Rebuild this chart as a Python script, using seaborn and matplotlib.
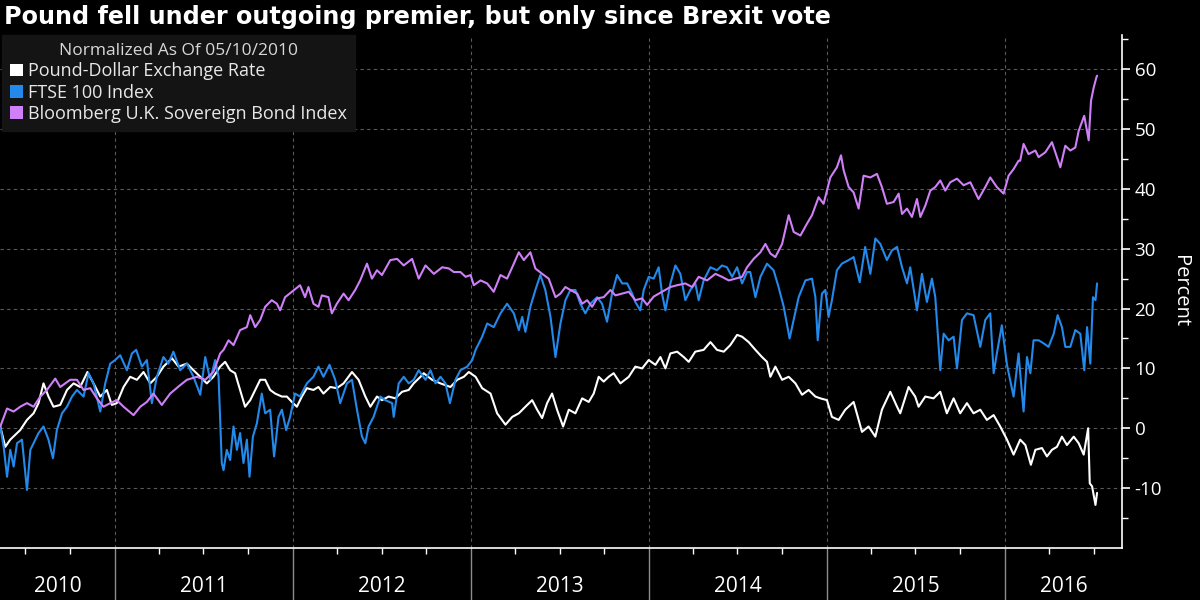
import numpy as np
import pandas as pd
import matplotlib
matplotlib.use("Agg")
import matplotlib.pyplot as plt
import matplotlib.dates as mdates
import matplotlib.ticker as mticker
import matplotlib.transforms as mtransforms
from matplotlib.patches import Patch
import seaborn as sns

# values, % change since 05/10/2010; time as decimal year
gbp_t = [2010.355, 2010.383, 2010.411, 2010.467, 2010.505, 2010.542, 2010.570, 2010.598, 2010.626, 2010.654,
         2010.692, 2010.730, 2010.767, 2010.804, 2010.845, 2010.879, 2010.917, 2010.954, 2010.982, 2011.010,
         2011.048, 2011.085, 2011.123, 2011.160, 2011.198, 2011.235, 2011.272, 2011.320, 2011.357, 2011.404,
         2011.441, 2011.479, 2011.516, 2011.553, 2011.591, 2011.619, 2011.647, 2011.675, 2011.703, 2011.731,
         2011.760, 2011.788, 2011.816, 2011.844, 2011.872, 2011.900, 2011.938, 2011.966, 2011.994, 2012.022,
         2012.050, 2012.078, 2012.115, 2012.143, 2012.171, 2012.209, 2012.246, 2012.284, 2012.331, 2012.368,
         2012.406, 2012.434, 2012.471, 2012.499, 2012.537, 2012.574, 2012.612, 2012.649, 2012.677, 2012.715,
         2012.733, 2012.780, 2012.827, 2012.883, 2012.921, 2012.958, 2012.986, 2013.024, 2013.061, 2013.108,
         2013.145, 2013.192, 2013.230, 2013.267, 2013.304, 2013.342, 2013.370, 2013.398, 2013.426, 2013.454,
         2013.482, 2013.516, 2013.548, 2013.585, 2013.623, 2013.660, 2013.688, 2013.716, 2013.744, 2013.772,
         2013.800, 2013.838, 2013.885, 2013.922, 2013.960, 2013.997, 2014.035, 2014.063, 2014.091, 2014.119,
         2014.157, 2014.194, 2014.222, 2014.259, 2014.306, 2014.344, 2014.381, 2014.419, 2014.456, 2014.494,
         2014.522, 2014.559, 2014.597, 2014.634, 2014.662, 2014.681, 2014.709, 2014.747, 2014.784, 2014.822,
         2014.859, 2014.896, 2014.934, 2014.962, 2014.999, 2015.027, 2015.065, 2015.102, 2015.149, 2015.196,
         2015.233, 2015.271, 2015.308, 2015.355, 2015.393, 2015.411, 2015.458, 2015.495, 2015.514, 2015.552,
         2015.598, 2015.636, 2015.673, 2015.711, 2015.748, 2015.786, 2015.823, 2015.861, 2015.898, 2015.936,
         2015.973, 2016.011, 2016.048, 2016.085, 2016.114, 2016.145, 2016.170, 2016.207, 2016.235, 2016.263,
         2016.291, 2016.319, 2016.347, 2016.385, 2016.413, 2016.441, 2016.466, 2016.475, 2016.488, 2016.507,
         2016.516]
gbp_v = [0.3, -3.1, -1.9, -0.3, 1.4, 2.5, 4.2, 7.5, 5.3, 3.6,
         3.9, 6.4, 7.5, 6.9, 9.4, 7.5, 5.3, 6.4, 3.9, 4.2,
         6.9, 8.6, 8.1, 9.4, 7.5, 8.6, 10.3, 11.7, 10.3, 10.8,
         9.7, 8.6, 7.5, 8.6, 10.3, 11.1, 9.7, 9.2, 6.4, 3.6,
         4.7, 6.4, 8.1, 8.1, 6.4, 5.8, 5.3, 5.3, 4.4, 3.6,
         5.3, 6.7, 6.4, 6.9, 5.8, 6.9, 6.7, 7.5, 9.4, 8.1,
         5.3, 3.6, 5.3, 4.7, 5.3, 5.0, 6.1, 6.4, 7.5, 8.6,
         9.2, 8.1, 7.5, 6.9, 8.1, 8.6, 9.4, 8.6, 6.7, 5.8,
         2.5, 0.6, 1.9, 2.5, 3.6, 4.7, 3.1, 1.7, 4.2, 5.8,
         3.1, 0.3, 3.1, 2.5, 5.0, 4.4, 5.8, 8.6, 7.8, 8.6,
         9.2, 7.5, 8.6, 10.3, 10.0, 11.4, 10.6, 11.9, 10.0, 12.5,
         12.8, 11.9, 11.1, 12.8, 13.1, 14.4, 13.1, 12.8, 13.9, 15.6,
         15.3, 14.4, 13.1, 11.9, 11.1, 8.6, 10.3, 8.1, 8.6, 7.5,
         5.6, 6.4, 5.3, 5.0, 4.7, 1.9, 1.4, 3.1, 4.4, -0.6,
         0.3, -1.4, 3.1, 6.1, 3.6, 2.5, 6.9, 5.3, 3.6, 5.3,
         5.0, 6.1, 2.5, 5.0, 2.5, 4.2, 2.5, 3.1, 1.4, 2.2,
         0.3, -1.9, -4.4, -1.9, -2.8, -6.1, -3.6, -3.3, -4.7, -3.6,
         -3.1, -1.4, -2.8, -1.4, -2.5, -4.4, 0.0, -9.2, -9.7, -12.8,
         -10.8]

ftse_t = [2010.355, 2010.374, 2010.393, 2010.411, 2010.430, 2010.449, 2010.477, 2010.505, 2010.524, 2010.542,
          2010.570, 2010.598, 2010.626, 2010.651, 2010.673, 2010.702, 2010.730, 2010.758, 2010.786, 2010.823,
          2010.851, 2010.879, 2010.917, 2010.945, 2010.973, 2011.001, 2011.029, 2011.067, 2011.095, 2011.119,
          2011.151, 2011.179, 2011.207, 2011.235, 2011.272, 2011.300, 2011.328, 2011.366, 2011.404, 2011.441,
          2011.479, 2011.507, 2011.535, 2011.563, 2011.582, 2011.600, 2011.610, 2011.628, 2011.647, 2011.666,
          2011.685, 2011.703, 2011.722, 2011.741, 2011.756, 2011.775, 2011.797, 2011.825, 2011.844, 2011.872,
          2011.894, 2011.919, 2011.938, 2011.962, 2011.984, 2012.012, 2012.040, 2012.078, 2012.115, 2012.143,
          2012.171, 2012.205, 2012.237, 2012.265, 2012.303, 2012.331, 2012.359, 2012.387, 2012.406, 2012.424,
          2012.452, 2012.490, 2012.518, 2012.556, 2012.565, 2012.593, 2012.621, 2012.649, 2012.677, 2012.705,
          2012.743, 2012.771, 2012.799, 2012.827, 2012.855, 2012.880, 2012.911, 2012.939, 2012.977, 2013.005,
          2013.024, 2013.061, 2013.089, 2013.126, 2013.164, 2013.201, 2013.239, 2013.267, 2013.286, 2013.304,
          2013.332, 2013.360, 2013.388, 2013.416, 2013.445, 2013.473, 2013.501, 2013.529, 2013.557, 2013.585,
          2013.613, 2013.641, 2013.669, 2013.707, 2013.735, 2013.763, 2013.791, 2013.819, 2013.848, 2013.876,
          2013.904, 2013.922, 2013.950, 2013.969, 2013.997, 2014.025, 2014.053, 2014.072, 2014.091, 2014.119,
          2014.147, 2014.175, 2014.203, 2014.231, 2014.259, 2014.278, 2014.306, 2014.344, 2014.381, 2014.409,
          2014.437, 2014.466, 2014.494, 2014.522, 2014.550, 2014.568, 2014.597, 2014.625, 2014.662, 2014.699,
          2014.727, 2014.756, 2014.789, 2014.812, 2014.840, 2014.878, 2014.915, 2014.934, 2014.947, 2014.971,
          2014.990, 2015.008, 2015.027, 2015.055, 2015.083, 2015.121, 2015.149, 2015.183, 2015.214, 2015.243,
          2015.271, 2015.299, 2015.336, 2015.364, 2015.393, 2015.421, 2015.449, 2015.467, 2015.505, 2015.533,
          2015.561, 2015.589, 2015.608, 2015.636, 2015.655, 2015.683, 2015.711, 2015.730, 2015.758, 2015.786,
          2015.823, 2015.861, 2015.889, 2015.917, 2015.936, 2015.954, 2015.982, 2016.011, 2016.048, 2016.076,
          2016.085, 2016.104, 2016.123, 2016.142, 2016.160, 2016.188, 2016.216, 2016.244, 2016.273, 2016.295,
          2016.319, 2016.338, 2016.366, 2016.394, 2016.422, 2016.444, 2016.460, 2016.478, 2016.493, 2016.507,
          2016.516]
ftse_v = [0.3, -3.1, -8.1, -3.6, -6.4, -2.5, -1.9, -10.3, -3.6, -2.5,
          -0.8, 0.3, -1.9, -5.0, -0.3, 2.5, 3.6, 5.3, 6.4, 5.3,
          9.2, 7.5, 2.8, 7.5, 10.8, 11.4, 12.2, 9.7, 12.5, 13.1,
          10.3, 11.4, 4.2, 8.6, 11.9, 10.8, 12.8, 9.7, 10.8, 8.6,
          5.6, 11.9, 8.1, 11.4, 8.6, -5.8, -7.0, -3.6, -5.3, 0.3,
          -3.6, -0.8, -5.8, -1.9, -8.1, -1.4, 0.8, 5.8, 2.5, 3.1,
          -4.7, 1.9, 3.1, -0.3, 1.9, 5.8, 5.3, 7.5, 8.6, 10.3,
          8.6, 10.6, 8.1, 4.2, 7.5, 8.1, 3.1, -1.4, -2.5, 0.3,
          1.9, 5.3, 4.7, 4.2, 1.9, 7.5, 8.6, 7.5, 8.1, 9.7,
          8.1, 9.7, 7.5, 8.6, 7.5, 4.2, 8.1, 9.7, 10.3, 11.4,
          13.1, 15.3, 17.5, 16.9, 19.2, 20.8, 19.2, 16.4, 18.6, 16.1,
          20.3, 23.1, 25.6, 23.1, 18.6, 11.9, 17.5, 21.4, 23.1, 23.1,
          20.8, 19.2, 20.8, 21.9, 20.8, 17.8, 22.5, 25.6, 24.2, 24.2,
          22.5, 21.1, 19.7, 23.1, 25.3, 25.0, 26.9, 22.5, 19.7, 24.2,
          27.2, 25.8, 21.4, 23.1, 24.2, 21.4, 24.7, 26.9, 26.4, 27.2,
          26.9, 25.3, 26.9, 24.2, 26.1, 26.1, 21.9, 25.3, 27.5, 26.4,
          23.6, 20.3, 15.0, 18.1, 21.9, 24.7, 25.0, 21.9, 14.7, 22.5,
          23.1, 18.6, 21.4, 26.4, 27.5, 28.1, 28.6, 24.4, 30.3, 25.8,
          31.7, 30.8, 28.1, 29.7, 30.3, 26.9, 24.2, 26.9, 19.7, 25.8,
          21.1, 25.0, 21.9, 9.7, 15.8, 14.7, 15.3, 10.0, 18.1, 19.2,
          18.9, 13.6, 18.1, 19.2, 9.2, 12.5, 17.2, 10.6, 5.3, 12.5,
          9.2, 2.8, 11.9, 9.2, 14.7, 14.7, 14.2, 13.6, 15.8, 18.9,
          16.9, 13.6, 13.6, 16.4, 15.8, 9.7, 16.9, 10.8, 21.9, 21.4,
          24.2]

bond_t = [2010.355, 2010.393, 2010.430, 2010.467, 2010.505, 2010.542, 2010.580, 2010.617, 2010.664, 2010.692,
          2010.748, 2010.786, 2010.823, 2010.861, 2010.898, 2010.935, 2010.973, 2011.010, 2011.048, 2011.104,
          2011.142, 2011.179, 2011.216, 2011.263, 2011.310, 2011.366, 2011.404, 2011.460, 2011.507, 2011.553,
          2011.591, 2011.610, 2011.638, 2011.666, 2011.703, 2011.741, 2011.760, 2011.788, 2011.816, 2011.844,
          2011.881, 2011.910, 2011.928, 2011.956, 2011.994, 2012.040, 2012.068, 2012.087, 2012.115, 2012.143,
          2012.162, 2012.199, 2012.218, 2012.246, 2012.284, 2012.312, 2012.349, 2012.377, 2012.415, 2012.443,
          2012.471, 2012.499, 2012.546, 2012.584, 2012.621, 2012.668, 2012.705, 2012.743, 2012.790, 2012.837,
          2012.874, 2012.902, 2012.939, 2012.968, 2012.996, 2013.014, 2013.052, 2013.089, 2013.126, 2013.164,
          2013.201, 2013.239, 2013.267, 2013.295, 2013.332, 2013.360, 2013.398, 2013.435, 2013.473, 2013.501,
          2013.529, 2013.557, 2013.595, 2013.623, 2013.651, 2013.679, 2013.707, 2013.744, 2013.782, 2013.810,
          2013.848, 2013.885, 2013.922, 2013.960, 2013.988, 2014.025, 2014.072, 2014.119, 2014.157, 2014.203,
          2014.241, 2014.278, 2014.325, 2014.372, 2014.409, 2014.447, 2014.484, 2014.522, 2014.550, 2014.587,
          2014.625, 2014.653, 2014.681, 2014.709, 2014.747, 2014.784, 2014.812, 2014.850, 2014.887, 2014.915,
          2014.952, 2014.980, 2015.018, 2015.055, 2015.078, 2015.093, 2015.121, 2015.149, 2015.177, 2015.205,
          2015.243, 2015.280, 2015.308, 2015.336, 2015.374, 2015.402, 2015.421, 2015.449, 2015.477, 2015.505,
          2015.524, 2015.552, 2015.580, 2015.608, 2015.636, 2015.664, 2015.692, 2015.730, 2015.767, 2015.805,
          2015.851, 2015.889, 2015.917, 2015.954, 2015.992, 2016.020, 2016.048, 2016.076, 2016.085, 2016.104,
          2016.132, 2016.170, 2016.188, 2016.226, 2016.263, 2016.291, 2016.310, 2016.338, 2016.366, 2016.394,
          2016.413, 2016.444, 2016.469, 2016.482, 2016.497, 2016.512, 2016.516]
bond_v = [0.3, 3.3, 2.8, 3.6, 4.2, 3.6, 5.3, 6.4, 8.3, 6.9,
          8.1, 8.1, 6.4, 6.7, 5.0, 3.6, 4.2, 4.7, 3.6, 2.2,
          3.6, 4.4, 5.8, 3.9, 5.8, 7.2, 8.1, 8.6, 8.1, 9.4,
          12.5, 13.1, 14.7, 13.9, 16.4, 16.9, 18.9, 16.9, 18.1, 20.3,
          21.4, 20.8, 19.7, 21.9, 22.8, 23.9, 21.9, 23.6, 20.8, 20.3,
          22.2, 21.9, 19.2, 20.8, 22.5, 21.4, 23.1, 24.7, 27.5, 25.0,
          26.4, 25.6, 28.1, 28.3, 27.2, 28.3, 25.0, 27.2, 25.8, 26.9,
          26.7, 26.1, 26.1, 25.3, 25.6, 23.9, 24.7, 24.2, 22.8, 25.6,
          25.0, 27.5, 29.4, 28.1, 29.4, 26.7, 25.8, 25.0, 21.9, 22.5,
          23.6, 23.1, 22.5, 20.8, 21.4, 20.3, 21.7, 21.9, 23.1, 22.2,
          22.5, 22.8, 21.4, 21.7, 20.6, 22.0, 22.8, 23.6, 23.9, 24.2,
          23.6, 25.3, 24.7, 25.8, 25.3, 24.7, 25.0, 25.3, 26.9, 28.3,
          29.4, 30.8, 29.2, 28.6, 30.8, 35.6, 32.8, 32.2, 34.2, 35.6,
          38.6, 37.5, 41.9, 43.6, 45.6, 43.1, 40.3, 39.4, 36.7, 42.2,
          41.9, 42.5, 40.3, 37.5, 37.8, 39.2, 35.8, 36.7, 35.3, 38.3,
          35.3, 37.2, 39.7, 40.3, 41.4, 39.7, 41.1, 41.7, 40.6, 41.1,
          38.3, 40.3, 41.9, 40.3, 39.2, 42.2, 43.3, 44.7, 44.7, 47.5,
          45.8, 46.4, 45.3, 46.1, 47.8, 45.3, 43.6, 47.2, 46.4, 46.9,
          49.7, 52.2, 48.1, 54.7, 56.9, 58.6, 58.9]

series_names = ["Pound-Dollar Exchange Rate", "FTSE 100 Index", "Bloomberg U.K. Sovereign Bond Index"]
series_colors = ["#ffffff", "#2389ea", "#cf7ff7"]
legend_title = "Normalized As Of 05/10/2010"
title = "Pound fell under outgoing premier, but only since Brexit vote"
years = [2010, 2011, 2012, 2013, 2014, 2015, 2016]


def to_dates(t):
    out = []
    for v in t:
        y = int(np.floor(v))
        start = pd.Timestamp(year=y, month=1, day=1)
        ndays = (pd.Timestamp(year=y + 1, month=1, day=1) - start).days
        out.append(start + pd.Timedelta(days=(v - y) * ndays))
    return out


frames = []
for name, t, v in zip(series_names, [gbp_t, ftse_t, bond_t], [gbp_v, ftse_v, bond_v]):
    frames.append(pd.DataFrame({"date": to_dates(t), "pct": v, "series": name}))
df = pd.concat(frames, ignore_index=True)

sns.set_theme(style="ticks", rc={"figure.facecolor": "black", "axes.facecolor": "black",
                                 "savefig.facecolor": "black", "text.color": "white",
                                 "axes.unicode_minus": False})
plt.rcParams["font.family"] = ["Open Sans", "DejaVu Sans"]

fig = plt.figure(figsize=(12, 6), dpi=100)
ax = fig.add_axes([0.0, 52 / 600, 1122 / 1200, 513 / 600])

sns.lineplot(data=df, x="date", y="pct", hue="series", hue_order=series_names,
             palette=dict(zip(series_names, series_colors)), estimator=None, sort=False,
             linewidth=1.5, legend=False, ax=ax)

xmin, xmax = pd.Timestamp("2010-05-10"), pd.Timestamp("2016-08-28")
ax.set_xlim(xmin, xmax)
ax.set_ylim(-20, 65.7)

# y axis on the right
ax.yaxis.tick_right()
ax.yaxis.set_label_position("right")
ax.set_yticks([-10, 0, 10, 20, 30, 40, 50, 60])
ax.yaxis.set_minor_locator(mticker.FixedLocator([-15, -5, 5, 15, 25, 35, 45, 55, 65]))
ax.tick_params(axis="y", which="major", colors="white", labelsize=13.5, length=6, width=1.2, pad=3)
ax.tick_params(axis="y", which="minor", colors="white", length=4, width=1)
ax.set_ylabel("Percent", rotation=270, color="white", fontsize=14.5, labelpad=20)

# x axis: long separators at year starts, short ticks at quarters
ax.xaxis.set_major_locator(mdates.YearLocator())
ax.xaxis.set_minor_locator(mdates.MonthLocator(bymonth=[4, 7, 10]))
ax.xaxis.set_major_formatter(mticker.NullFormatter())
ax.tick_params(axis="x", which="major", colors="#8c8c8c", length=38, width=1)
ax.tick_params(axis="x", which="minor", colors="white", length=4, width=1)
ax.set_xlabel("")

trans = mtransforms.blended_transform_factory(ax.transData, ax.transAxes)
for yr in years:
    a = max(pd.Timestamp(year=yr, month=1, day=1), xmin)
    b = min(pd.Timestamp(year=yr + 1, month=1, day=1), xmax)
    mid = a + (b - a) / 2
    ax.text(mid, -0.076, str(yr), transform=trans, ha="center", va="center",
            color="white", fontsize=15)

ax.grid(True, which="major", color="#5a5a5a", linestyle=(0, (3, 3)), linewidth=0.8)
for s in ["top", "left"]:
    ax.spines[s].set_visible(False)
for s in ["bottom", "right"]:
    ax.spines[s].set_color("white")
    ax.spines[s].set_linewidth(1.2)

handles = [Patch(facecolor=c, edgecolor="none") for c in series_colors]
leg = ax.legend(handles, series_names, title=legend_title, loc="upper left",
                bbox_to_anchor=(0.002, 1.0), borderaxespad=0, frameon=True, fancybox=False,
                facecolor="#141414", edgecolor="#141414", framealpha=1,
                fontsize=13, title_fontsize=12.5, handlelength=0.7, handleheight=0.7,
                handletextpad=0.3, labelspacing=0.18, borderpad=0.45)
for txt in leg.get_texts():
    txt.set_color("#e8e8e8")
leg.get_title().set_color("#d8d8d8")

fig.text(0.003, 0.992, title, ha="left", va="top", color="white", fontsize=17.2,
         fontweight="bold", family=["DejaVu Sans"])

fig.savefig("out.png", dpi=100)
